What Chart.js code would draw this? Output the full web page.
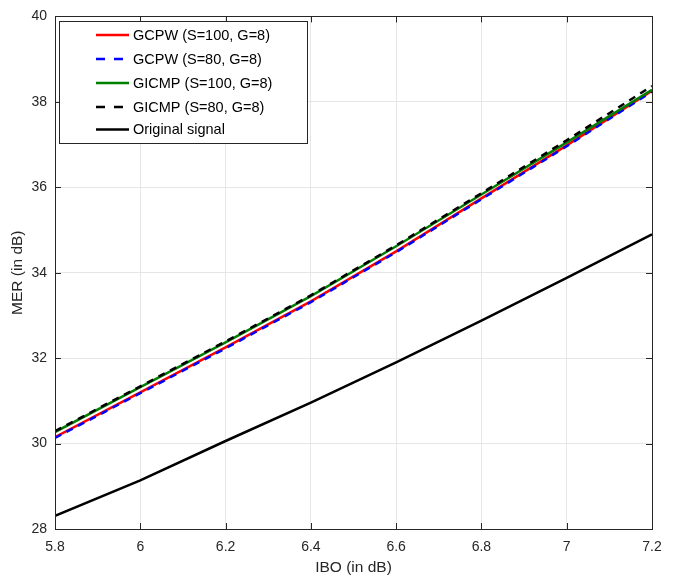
<!DOCTYPE html>
<html>
<head>
<meta charset="utf-8">
<script src="https://cdn.jsdelivr.net/npm/chart.js@4.4.1/dist/chart.umd.min.js"></script>
<style>
  html, body { margin: 0; padding: 0; background: #ffffff; }
  #wrap { width: 674px; height: 575px; }
</style>
</head>
<body>
<div id="wrap"><canvas id="graph_mer"></canvas></div>
<script>
// Dados

const ibo = [5.8, 6.0, 6.2, 6.4, 6.6, 6.8, 7.0, 7.2];

const gcpw100 = [30.15, 31.2, 32.25, 33.33, 34.5, 35.74, 36.98, 38.26];
const gcpw80 = [30.13, 31.18, 32.23, 33.31, 34.48, 35.72, 36.96, 38.24];
const gicmp100 = [30.27, 31.32, 32.37, 33.45, 34.62, 35.83, 37.05, 38.28];
const gicmp80 = [30.29, 31.34, 32.39, 33.47, 34.64, 35.86, 37.1, 38.37];
const original = [28.31, 29.14, 30.06, 30.96, 31.9, 32.88, 33.88, 34.9];

const xTicks = [5.8, 6, 6.2, 6.4, 6.6, 6.8, 7, 7.2];
const yTicks = [28, 30, 32, 34, 36, 38, 40];

const fonte = "'Liberation Sans', Arial, Helvetica, sans-serif";
const corEixo = "#262626";

function pontos(valores) {
  return ibo.map((x, i) => ({ x: x, y: valores[i] }));
}

// Caixa do eixo com ticks para dentro (estilo MATLAB)

const caixaEixo = {
  id: "caixaEixo",
  afterDatasetsDraw(chart) {
    const ctx = chart.ctx;
    const area = chart.chartArea;
    const sx = chart.scales.x;
    const sy = chart.scales.y;
    ctx.save();
    ctx.strokeStyle = corEixo;
    ctx.lineWidth = 1;
    ctx.beginPath();
    xTicks.forEach((v) => {
      const px = Math.round(sx.getPixelForValue(v)) + 0.5;
      ctx.moveTo(px, area.bottom);
      ctx.lineTo(px, area.bottom - 6);
      ctx.moveTo(px, area.top);
      ctx.lineTo(px, area.top + 6);
    });
    yTicks.forEach((v) => {
      const py = Math.round(sy.getPixelForValue(v)) + 0.5;
      ctx.moveTo(area.left, py);
      ctx.lineTo(area.left + 6, py);
      ctx.moveTo(area.right, py);
      ctx.lineTo(area.right - 6, py);
    });
    ctx.stroke();
    ctx.strokeRect(
      Math.round(area.left) + 0.5,
      Math.round(area.top) + 0.5,
      Math.round(area.right - area.left),
      Math.round(area.bottom - area.top)
    );
    ctx.restore();
  },
  afterDraw(chart) {
    // Legenda dentro da área do gráfico
    const ctx = chart.ctx;
    const caixa = { x: 59, y: 21, w: 248, h: 122 };
    const linhas = [35, 59, 83, 107, 129.5];
    ctx.save();
    ctx.fillStyle = "#ffffff";
    ctx.fillRect(caixa.x, caixa.y, caixa.w, caixa.h);
    ctx.strokeStyle = corEixo;
    ctx.lineWidth = 1;
    ctx.strokeRect(caixa.x + 0.5, caixa.y + 0.5, caixa.w, caixa.h);
    chart.data.datasets.forEach((ds, i) => {
      const y = linhas[i];
      ctx.beginPath();
      ctx.strokeStyle = ds.borderColor;
      ctx.lineWidth = ds.borderWidth;
      ctx.setLineDash(ds.borderDash && ds.borderDash.length ? [9, 9] : []);
      ctx.moveTo(96, y);
      ctx.lineTo(129, y);
      ctx.stroke();
      ctx.setLineDash([]);
      ctx.fillStyle = "#000000";
      ctx.font = "14.5px " + fonte;
      ctx.textBaseline = "middle";
      ctx.textAlign = "left";
      ctx.fillText(ds.label, 133, y + 0.5);
    });
    ctx.restore();
  },
};

const graficoMer = document.getElementById("graph_mer");

new Chart(graficoMer, {
  type: "line",
  data: {
    datasets: [
      {
        label: "GCPW (S=100, G=8)",
        data: pontos(gcpw100),
        borderColor: "#ff0000",
        borderWidth: 2.5,
        order: 5,
      },
      {
        label: "GCPW (S=80, G=8)",
        data: pontos(gcpw80),
        borderColor: "#0000ff",
        borderWidth: 2.5,
        borderDash: [7, 6],
        order: 4,
      },
      {
        label: "GICMP (S=100, G=8)",
        data: pontos(gicmp100),
        borderColor: "#008000",
        borderWidth: 2.5,
        order: 3,
      },
      {
        label: "GICMP (S=80, G=8)",
        data: pontos(gicmp80),
        borderColor: "#000000",
        borderWidth: 2.5,
        borderDash: [7, 6],
        order: 2,
      },
      {
        label: "Original signal",
        data: pontos(original),
        borderColor: "#000000",
        borderWidth: 2.5,
        order: 1,
      },
    ],
  },
  options: {
    responsive: true,
    maintainAspectRatio: false,
    animation: false,
    events: [],
    elements: {
      point: { radius: 0 },
      line: { tension: 0, fill: false, borderCapStyle: "butt" },
    },
    layout: {
      padding: { left: 0, top: 14, right: 22, bottom: 0 },
    },
    scales: {
      x: {
        type: "linear",
        min: 5.8,
        max: 7.2,
        afterFit: (scale) => {
          scale.height = 46;
        },
        afterBuildTicks: (scale) => {
          scale.ticks = xTicks.map((v) => ({ value: v }));
        },
        ticks: {
          padding: 10,
          color: corEixo,
          font: { family: fonte, size: 14 },
          maxRotation: 0,
          callback: (v) => String(Number(v.toFixed(1))),
        },
        grid: {
          color: "#e6e6e6",
          lineWidth: 1,
          drawTicks: false,
        },
        border: { display: false },
        title: {
          display: true,
          text: "IBO (in dB)",
          color: corEixo,
          font: { family: fonte, size: 15.5, lineHeight: 1 },
          padding: { top: 0, bottom: 0 },
        },
      },
      y: {
        type: "linear",
        min: 28,
        max: 40,
        afterFit: (scale) => {
          scale.width = 55;
        },
        afterBuildTicks: (scale) => {
          scale.ticks = yTicks.map((v) => ({ value: v }));
        },
        ticks: {
          padding: 8,
          color: corEixo,
          font: { family: fonte, size: 14 },
        },
        grid: {
          color: "#e6e6e6",
          lineWidth: 1,
          drawTicks: false,
        },
        border: { display: false },
        title: {
          display: true,
          text: "MER (in dB)",
          color: corEixo,
          font: { family: fonte, size: 15.5, lineHeight: 1 },
          padding: { top: 9.5, bottom: 0 },
        },
      },
    },
    plugins: {
      legend: { display: false },
      tooltip: { enabled: false },
    },
  },
  plugins: [caixaEixo],
});
</script>
</body>
</html>
